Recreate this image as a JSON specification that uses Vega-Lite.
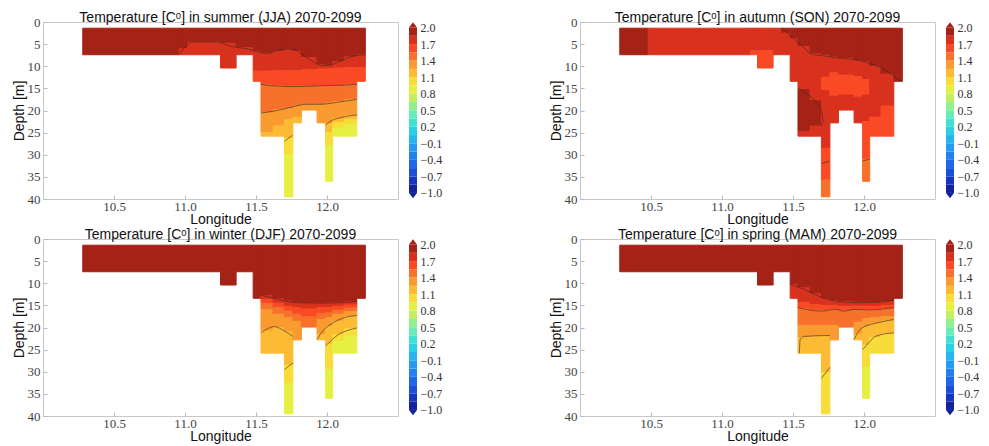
{
"$schema":"https://vega.github.io/schema/vega-lite/v6.json",
"background":"white",
"padding":{"left":11,"top":10,"right":0,"bottom":0},
"config":{
 "view":{"stroke":"#c8c8c8"},
 "axis":{"grid":false,"domain":false,"labelFont":"Liberation Serif, DejaVu Serif, serif","labelFontSize":13,"labelColor":"#444","titleFont":"Liberation Sans, Arial, sans-serif","titleFontSize":14,"titleFontWeight":"normal","titleColor":"#111","tickColor":"#bbbbbb","tickSize":-4,"labelOverlap":false,"labelBound":false},
 "axisX":{"labelPadding":5},
 "axisY":{"labelPadding":7},
 "title":{"font":"Liberation Sans, Arial, sans-serif","fontSize":14,"fontWeight":"normal","color":"#111","offset":-9,"frame":"group"}
},
"datasets":{
"bar":[
{"lo":-1.0,"hi":-0.85,"t":-0.925},{"lo":-0.85,"hi":-0.7,"t":-0.775},{"lo":-0.7,"hi":-0.55,"t":-0.625},{"lo":-0.55,"hi":-0.4,"t":-0.475},{"lo":-0.4,"hi":-0.25,"t":-0.325},{"lo":-0.25,"hi":-0.1,"t":-0.175},{"lo":-0.1,"hi":0.05,"t":-0.025},{"lo":0.05,"hi":0.2,"t":0.125},{"lo":0.2,"hi":0.35,"t":0.275},{"lo":0.35,"hi":0.5,"t":0.425},{"lo":0.5,"hi":0.65,"t":0.575},{"lo":0.65,"hi":0.8,"t":0.725},{"lo":0.8,"hi":0.95,"t":0.875},{"lo":0.95,"hi":1.1,"t":1.025},{"lo":1.1,"hi":1.25,"t":1.175},{"lo":1.25,"hi":1.4,"t":1.325},{"lo":1.4,"hi":1.55,"t":1.475},{"lo":1.55,"hi":1.7,"t":1.625},{"lo":1.7,"hi":1.85,"t":1.775},{"lo":1.85,"hi":2.0,"t":1.925}],
"tips":[{"v":2.0,"dir":"up","t":2.05},{"v":-1.0,"dir":"down","t":-1.05}],
"lines":[
{"p":"JJA","g":"a","o":1,"lon":10.96,"d":7.4},{"p":"JJA","g":"a","o":2,"lon":11.0,"d":5.6},{"p":"JJA","g":"a","o":3,"lon":11.06,"d":4.5},{"p":"JJA","g":"a","o":4,"lon":11.23,"d":4.5},{"p":"JJA","g":"a","o":5,"lon":11.3,"d":5.3},{"p":"JJA","g":"a","o":6,"lon":11.44,"d":6.1},{"p":"JJA","g":"a","o":7,"lon":11.52,"d":6.8},{"p":"JJA","g":"a","o":8,"lon":11.58,"d":7.1},{"p":"JJA","g":"a","o":9,"lon":11.65,"d":6.4},{"p":"JJA","g":"a","o":10,"lon":11.72,"d":6.1},{"p":"JJA","g":"a","o":11,"lon":11.77,"d":6.2},{"p":"JJA","g":"a","o":12,"lon":11.82,"d":7.2},{"p":"JJA","g":"a","o":13,"lon":11.89,"d":8.7},{"p":"JJA","g":"a","o":14,"lon":11.96,"d":9.8},{"p":"JJA","g":"a","o":15,"lon":12.01,"d":9.8},{"p":"JJA","g":"a","o":16,"lon":12.1,"d":8.7},{"p":"JJA","g":"a","o":17,"lon":12.2,"d":7.6},{"p":"JJA","g":"a","o":18,"lon":12.27,"d":7.4},
{"p":"JJA","g":"b","o":1,"lon":11.535,"d":14.1},{"p":"JJA","g":"b","o":2,"lon":11.65,"d":14.5},{"p":"JJA","g":"b","o":3,"lon":11.8,"d":14.6},{"p":"JJA","g":"b","o":4,"lon":11.95,"d":14.4},{"p":"JJA","g":"b","o":5,"lon":12.1,"d":14.3},{"p":"JJA","g":"b","o":6,"lon":12.21,"d":14.1},
{"p":"JJA","g":"c","o":1,"lon":11.535,"d":20.6},{"p":"JJA","g":"c","o":2,"lon":11.68,"d":19.8},{"p":"JJA","g":"c","o":3,"lon":11.78,"d":19.0},{"p":"JJA","g":"c","o":4,"lon":11.85,"d":18.6},{"p":"JJA","g":"c","o":5,"lon":11.95,"d":18.6},{"p":"JJA","g":"c","o":6,"lon":12.1,"d":18.0},{"p":"JJA","g":"c","o":7,"lon":12.21,"d":17.5},
{"p":"JJA","g":"d","o":1,"lon":11.70,"d":27.0},{"p":"JJA","g":"d","o":2,"lon":11.755,"d":25.6},
{"p":"JJA","g":"e","o":1,"lon":11.99,"d":23.3},{"p":"JJA","g":"e","o":2,"lon":12.02,"d":22.5},{"p":"JJA","g":"e","o":3,"lon":12.1,"d":21.6},{"p":"JJA","g":"e","o":4,"lon":12.21,"d":21.0},
{"p":"SON","g":"a","o":1,"lon":11.42,"d":1.4},{"p":"SON","g":"a","o":2,"lon":11.46,"d":2.5},{"p":"SON","g":"a","o":3,"lon":11.51,"d":3.9},{"p":"SON","g":"a","o":4,"lon":11.57,"d":5.6},{"p":"SON","g":"a","o":5,"lon":11.63,"d":7.2},{"p":"SON","g":"a","o":6,"lon":11.7,"d":7.6},{"p":"SON","g":"a","o":7,"lon":11.79,"d":8.0},{"p":"SON","g":"a","o":8,"lon":11.9,"d":8.4},{"p":"SON","g":"a","o":9,"lon":11.98,"d":8.8},{"p":"SON","g":"a","o":10,"lon":12.05,"d":9.5},{"p":"SON","g":"a","o":11,"lon":12.12,"d":10.3},{"p":"SON","g":"a","o":12,"lon":12.18,"d":11.5},{"p":"SON","g":"a","o":13,"lon":12.22,"d":12.6},{"p":"SON","g":"a","o":14,"lon":12.27,"d":13.4},
{"p":"SON","g":"b","o":1,"lon":11.535,"d":15.0},{"p":"SON","g":"b","o":2,"lon":11.6,"d":16.3},{"p":"SON","g":"b","o":3,"lon":11.66,"d":18.0},{"p":"SON","g":"b","o":4,"lon":11.70,"d":20.0},{"p":"SON","g":"b","o":5,"lon":11.715,"d":22.5},{"p":"SON","g":"b","o":6,"lon":11.70,"d":23.5},
{"p":"SON","g":"c","o":1,"lon":11.70,"d":32.0},{"p":"SON","g":"c","o":2,"lon":11.76,"d":31.4},
{"p":"SON","g":"d","o":1,"lon":11.99,"d":31.4},{"p":"SON","g":"d","o":2,"lon":12.04,"d":31.0},
{"p":"DJF","g":"a","o":1,"lon":11.535,"d":12.7},{"p":"DJF","g":"a","o":2,"lon":11.62,"d":13.3},{"p":"DJF","g":"a","o":3,"lon":11.70,"d":14.0},{"p":"DJF","g":"a","o":4,"lon":11.8,"d":14.4},{"p":"DJF","g":"a","o":5,"lon":11.95,"d":14.5},{"p":"DJF","g":"a","o":6,"lon":12.1,"d":14.4},{"p":"DJF","g":"a","o":7,"lon":12.21,"d":14.1},
{"p":"DJF","g":"c","o":1,"lon":11.535,"d":21.2},{"p":"DJF","g":"c","o":2,"lon":11.63,"d":19.8},{"p":"DJF","g":"c","o":3,"lon":11.70,"d":20.8},{"p":"DJF","g":"c","o":4,"lon":11.76,"d":22.0},
{"p":"DJF","g":"d","o":1,"lon":11.93,"d":22.7},{"p":"DJF","g":"d","o":2,"lon":11.97,"d":20.8},{"p":"DJF","g":"d","o":3,"lon":12.03,"d":19.2},{"p":"DJF","g":"d","o":4,"lon":12.12,"d":17.8},{"p":"DJF","g":"d","o":5,"lon":12.21,"d":17.3},
{"p":"DJF","g":"e","o":1,"lon":11.99,"d":24.2},{"p":"DJF","g":"e","o":2,"lon":12.04,"d":22.6},{"p":"DJF","g":"e","o":3,"lon":12.08,"d":21.6},{"p":"DJF","g":"e","o":4,"lon":12.15,"d":20.6},{"p":"DJF","g":"e","o":5,"lon":12.21,"d":20.1},
{"p":"DJF","g":"f","o":1,"lon":11.70,"d":29.5},{"p":"DJF","g":"f","o":2,"lon":11.76,"d":28.0},
{"p":"MAM","g":"a","o":1,"lon":11.48,"d":10.2},{"p":"MAM","g":"a","o":2,"lon":11.58,"d":11.4},{"p":"MAM","g":"a","o":3,"lon":11.66,"d":12.6},{"p":"MAM","g":"a","o":4,"lon":11.72,"d":13.4},{"p":"MAM","g":"a","o":5,"lon":11.8,"d":14.0},{"p":"MAM","g":"a","o":6,"lon":11.95,"d":14.4},{"p":"MAM","g":"a","o":7,"lon":12.1,"d":14.3},{"p":"MAM","g":"a","o":8,"lon":12.21,"d":13.8},
{"p":"MAM","g":"b","o":1,"lon":11.535,"d":15.5},{"p":"MAM","g":"b","o":2,"lon":11.7,"d":16.3},{"p":"MAM","g":"b","o":3,"lon":11.8,"d":15.9},{"p":"MAM","g":"b","o":4,"lon":11.86,"d":16.3},{"p":"MAM","g":"b","o":5,"lon":11.93,"d":15.9},{"p":"MAM","g":"b","o":6,"lon":12.04,"d":16.0},{"p":"MAM","g":"b","o":7,"lon":12.21,"d":15.5},
{"p":"MAM","g":"c","o":1,"lon":11.545,"d":25.8},{"p":"MAM","g":"c","o":2,"lon":11.55,"d":22.8},{"p":"MAM","g":"c","o":3,"lon":11.58,"d":22.0},{"p":"MAM","g":"c","o":4,"lon":11.76,"d":21.8},
{"p":"MAM","g":"d","o":1,"lon":11.93,"d":22.7},{"p":"MAM","g":"d","o":2,"lon":11.98,"d":20.2},{"p":"MAM","g":"d","o":3,"lon":12.1,"d":18.9},{"p":"MAM","g":"d","o":4,"lon":12.21,"d":18.2},
{"p":"MAM","g":"e","o":1,"lon":11.99,"d":25.0},{"p":"MAM","g":"e","o":2,"lon":12.04,"d":23.2},{"p":"MAM","g":"e","o":3,"lon":12.08,"d":22.0},{"p":"MAM","g":"e","o":4,"lon":12.21,"d":21.2},
{"p":"MAM","g":"f","o":1,"lon":11.70,"d":31.5},{"p":"MAM","g":"f","o":2,"lon":11.76,"d":29.0}
],
"cells":[
{"p":"JJA","x0":10.28,"x1":10.96,"d0":1.4,"d1":7.4,"t":1.92},
{"p":"JJA","x0":10.96,"x1":11.02,"d0":1.4,"d1":6.0,"t":1.92},
{"p":"JJA","x0":10.96,"x1":11.02,"d0":6.0,"d1":7.4,"t":1.78},
{"p":"JJA","x0":11.02,"x1":11.25,"d0":1.4,"d1":4.5,"t":1.92},
{"p":"JJA","x0":11.02,"x1":11.25,"d0":4.5,"d1":7.4,"t":1.78},
{"p":"JJA","x0":11.25,"x1":11.36,"d0":1.4,"d1":4.8,"t":1.92},
{"p":"JJA","x0":11.25,"x1":11.36,"d0":4.8,"d1":10.4,"t":1.78},
{"p":"JJA","x0":11.36,"x1":11.48,"d0":1.4,"d1":5.8,"t":1.92},
{"p":"JJA","x0":11.36,"x1":11.48,"d0":5.8,"d1":7.4,"t":1.78},
{"p":"JJA","x0":11.48,"x1":11.535,"d0":1.4,"d1":6.6,"t":1.92},
{"p":"JJA","x0":11.48,"x1":11.535,"d0":6.6,"d1":11.1,"t":1.78},
{"p":"JJA","x0":11.48,"x1":11.535,"d0":11.1,"d1":13.4,"t":1.62},
{"p":"JJA","x0":11.535,"x1":11.62,"d0":1.4,"d1":7.0,"t":1.92},
{"p":"JJA","x0":11.535,"x1":11.62,"d0":7.0,"d1":11.1,"t":1.78},
{"p":"JJA","x0":11.535,"x1":11.62,"d0":11.1,"d1":14.2,"t":1.62},
{"p":"JJA","x0":11.535,"x1":11.62,"d0":14.2,"d1":20.5,"t":1.47},
{"p":"JJA","x0":11.535,"x1":11.62,"d0":20.5,"d1":25.0,"t":1.32},
{"p":"JJA","x0":11.535,"x1":11.62,"d0":25.0,"d1":25.8,"t":1.17},
{"p":"JJA","x0":11.62,"x1":11.70,"d0":1.4,"d1":6.6,"t":1.92},
{"p":"JJA","x0":11.62,"x1":11.70,"d0":6.6,"d1":11.0,"t":1.78},
{"p":"JJA","x0":11.62,"x1":11.70,"d0":11.0,"d1":14.4,"t":1.62},
{"p":"JJA","x0":11.62,"x1":11.70,"d0":14.4,"d1":19.8,"t":1.47},
{"p":"JJA","x0":11.62,"x1":11.70,"d0":19.8,"d1":23.5,"t":1.32},
{"p":"JJA","x0":11.62,"x1":11.70,"d0":23.5,"d1":25.8,"t":1.17},
{"p":"JJA","x0":11.70,"x1":11.76,"d0":1.4,"d1":6.1,"t":1.92},
{"p":"JJA","x0":11.70,"x1":11.76,"d0":6.1,"d1":11.0,"t":1.78},
{"p":"JJA","x0":11.70,"x1":11.76,"d0":11.0,"d1":14.5,"t":1.62},
{"p":"JJA","x0":11.70,"x1":11.76,"d0":14.5,"d1":19.5,"t":1.47},
{"p":"JJA","x0":11.70,"x1":11.76,"d0":19.5,"d1":22.0,"t":1.32},
{"p":"JJA","x0":11.70,"x1":11.76,"d0":22.0,"d1":26.3,"t":1.17},
{"p":"JJA","x0":11.70,"x1":11.76,"d0":26.3,"d1":30.0,"t":1.02},
{"p":"JJA","x0":11.70,"x1":11.76,"d0":30.0,"d1":39.5,"t":0.87},
{"p":"JJA","x0":11.76,"x1":11.82,"d0":1.4,"d1":6.6,"t":1.92},
{"p":"JJA","x0":11.76,"x1":11.82,"d0":6.6,"d1":11.0,"t":1.78},
{"p":"JJA","x0":11.76,"x1":11.82,"d0":11.0,"d1":14.5,"t":1.62},
{"p":"JJA","x0":11.76,"x1":11.82,"d0":14.5,"d1":19.0,"t":1.47},
{"p":"JJA","x0":11.76,"x1":11.82,"d0":19.0,"d1":21.5,"t":1.32},
{"p":"JJA","x0":11.76,"x1":11.82,"d0":21.5,"d1":22.8,"t":1.17},
{"p":"JJA","x0":11.82,"x1":11.93,"d0":1.4,"d1":8.0,"t":1.92},
{"p":"JJA","x0":11.82,"x1":11.93,"d0":8.0,"d1":10.8,"t":1.78},
{"p":"JJA","x0":11.82,"x1":11.93,"d0":10.8,"d1":14.5,"t":1.62},
{"p":"JJA","x0":11.82,"x1":11.93,"d0":14.5,"d1":18.6,"t":1.47},
{"p":"JJA","x0":11.82,"x1":11.93,"d0":18.6,"d1":19.9,"t":1.32},
{"p":"JJA","x0":11.93,"x1":11.99,"d0":1.4,"d1":9.6,"t":1.92},
{"p":"JJA","x0":11.93,"x1":11.99,"d0":9.6,"d1":10.6,"t":1.78},
{"p":"JJA","x0":11.93,"x1":11.99,"d0":10.6,"d1":14.4,"t":1.62},
{"p":"JJA","x0":11.93,"x1":11.99,"d0":14.4,"d1":18.6,"t":1.47},
{"p":"JJA","x0":11.93,"x1":11.99,"d0":18.6,"d1":22.8,"t":1.32},
{"p":"JJA","x0":11.99,"x1":12.04,"d0":1.4,"d1":9.8,"t":1.92},
{"p":"JJA","x0":11.99,"x1":12.04,"d0":9.8,"d1":10.5,"t":1.78},
{"p":"JJA","x0":11.99,"x1":12.04,"d0":10.5,"d1":14.4,"t":1.62},
{"p":"JJA","x0":11.99,"x1":12.04,"d0":14.4,"d1":18.3,"t":1.47},
{"p":"JJA","x0":11.99,"x1":12.04,"d0":18.3,"d1":23.0,"t":1.32},
{"p":"JJA","x0":11.99,"x1":12.04,"d0":23.0,"d1":25.0,"t":1.17},
{"p":"JJA","x0":11.99,"x1":12.04,"d0":25.0,"d1":28.0,"t":1.02},
{"p":"JJA","x0":11.99,"x1":12.04,"d0":28.0,"d1":36.0,"t":0.87},
{"p":"JJA","x0":12.04,"x1":12.12,"d0":1.4,"d1":9.0,"t":1.92},
{"p":"JJA","x0":12.04,"x1":12.12,"d0":9.0,"d1":10.4,"t":1.78},
{"p":"JJA","x0":12.04,"x1":12.12,"d0":10.4,"d1":14.4,"t":1.62},
{"p":"JJA","x0":12.04,"x1":12.12,"d0":14.4,"d1":18.0,"t":1.47},
{"p":"JJA","x0":12.04,"x1":12.12,"d0":18.0,"d1":21.8,"t":1.32},
{"p":"JJA","x0":12.04,"x1":12.12,"d0":21.8,"d1":22.7,"t":1.17},
{"p":"JJA","x0":12.04,"x1":12.12,"d0":22.7,"d1":24.0,"t":1.02},
{"p":"JJA","x0":12.04,"x1":12.12,"d0":24.0,"d1":25.8,"t":0.87},
{"p":"JJA","x0":12.12,"x1":12.21,"d0":1.4,"d1":7.9,"t":1.92},
{"p":"JJA","x0":12.12,"x1":12.21,"d0":7.9,"d1":10.3,"t":1.78},
{"p":"JJA","x0":12.12,"x1":12.21,"d0":10.3,"d1":14.1,"t":1.62},
{"p":"JJA","x0":12.12,"x1":12.21,"d0":14.1,"d1":17.5,"t":1.47},
{"p":"JJA","x0":12.12,"x1":12.21,"d0":17.5,"d1":21.2,"t":1.32},
{"p":"JJA","x0":12.12,"x1":12.21,"d0":21.2,"d1":22.0,"t":1.17},
{"p":"JJA","x0":12.12,"x1":12.21,"d0":22.0,"d1":23.3,"t":1.02},
{"p":"JJA","x0":12.12,"x1":12.21,"d0":23.3,"d1":25.8,"t":0.87},
{"p":"JJA","x0":12.21,"x1":12.27,"d0":1.4,"d1":7.4,"t":1.92},
{"p":"JJA","x0":12.21,"x1":12.27,"d0":7.4,"d1":10.3,"t":1.78},
{"p":"JJA","x0":12.21,"x1":12.27,"d0":10.3,"d1":13.4,"t":1.62},

{"p":"SON","x0":10.28,"x1":10.48,"d0":1.4,"d1":7.4,"t":1.92},
{"p":"SON","x0":10.48,"x1":11.20,"d0":1.4,"d1":7.4,"t":1.78},
{"p":"SON","x0":11.20,"x1":11.25,"d0":1.4,"d1":6.5,"t":1.78},
{"p":"SON","x0":11.20,"x1":11.25,"d0":6.5,"d1":7.4,"t":1.62},
{"p":"SON","x0":11.25,"x1":11.36,"d0":1.4,"d1":6.5,"t":1.78},
{"p":"SON","x0":11.25,"x1":11.36,"d0":6.5,"d1":10.4,"t":1.62},
{"p":"SON","x0":11.36,"x1":11.42,"d0":1.4,"d1":7.4,"t":1.78},
{"p":"SON","x0":11.42,"x1":11.48,"d0":1.4,"d1":2.5,"t":1.92},
{"p":"SON","x0":11.42,"x1":11.48,"d0":2.5,"d1":7.4,"t":1.78},
{"p":"SON","x0":11.48,"x1":11.535,"d0":1.4,"d1":3.8,"t":1.92},
{"p":"SON","x0":11.48,"x1":11.535,"d0":3.8,"d1":13.4,"t":1.78},
{"p":"SON","x0":11.535,"x1":11.62,"d0":1.4,"d1":5.5,"t":1.92},
{"p":"SON","x0":11.535,"x1":11.62,"d0":5.5,"d1":15.3,"t":1.78},
{"p":"SON","x0":11.535,"x1":11.62,"d0":15.3,"d1":24.8,"t":1.92},
{"p":"SON","x0":11.535,"x1":11.62,"d0":24.8,"d1":25.8,"t":1.78},
{"p":"SON","x0":11.62,"x1":11.70,"d0":1.4,"d1":7.2,"t":1.92},
{"p":"SON","x0":11.62,"x1":11.70,"d0":7.2,"d1":17.8,"t":1.78},
{"p":"SON","x0":11.62,"x1":11.70,"d0":17.8,"d1":23.5,"t":1.92},
{"p":"SON","x0":11.62,"x1":11.70,"d0":23.5,"d1":25.8,"t":1.78},
{"p":"SON","x0":11.70,"x1":11.76,"d0":1.4,"d1":7.5,"t":1.92},
{"p":"SON","x0":11.70,"x1":11.76,"d0":7.5,"d1":12.5,"t":1.78},
{"p":"SON","x0":11.70,"x1":11.76,"d0":12.5,"d1":15.5,"t":1.62},
{"p":"SON","x0":11.70,"x1":11.76,"d0":15.5,"d1":28.5,"t":1.78},
{"p":"SON","x0":11.70,"x1":11.76,"d0":28.5,"d1":35.7,"t":1.62},
{"p":"SON","x0":11.70,"x1":11.76,"d0":35.7,"d1":39.5,"t":1.47},
{"p":"SON","x0":11.76,"x1":11.82,"d0":1.4,"d1":7.9,"t":1.92},
{"p":"SON","x0":11.76,"x1":11.82,"d0":7.9,"d1":11.5,"t":1.78},
{"p":"SON","x0":11.76,"x1":11.82,"d0":11.5,"d1":16.8,"t":1.62},
{"p":"SON","x0":11.76,"x1":11.82,"d0":16.8,"d1":22.8,"t":1.78},
{"p":"SON","x0":11.82,"x1":11.93,"d0":1.4,"d1":8.2,"t":1.92},
{"p":"SON","x0":11.82,"x1":11.93,"d0":8.2,"d1":12.0,"t":1.78},
{"p":"SON","x0":11.82,"x1":11.93,"d0":12.0,"d1":16.5,"t":1.62},
{"p":"SON","x0":11.82,"x1":11.93,"d0":16.5,"d1":19.9,"t":1.78},
{"p":"SON","x0":11.93,"x1":11.99,"d0":1.4,"d1":8.7,"t":1.92},
{"p":"SON","x0":11.93,"x1":11.99,"d0":8.7,"d1":12.3,"t":1.78},
{"p":"SON","x0":11.93,"x1":11.99,"d0":12.3,"d1":17.0,"t":1.62},
{"p":"SON","x0":11.93,"x1":11.99,"d0":17.0,"d1":22.8,"t":1.78},
{"p":"SON","x0":11.99,"x1":12.04,"d0":1.4,"d1":9.0,"t":1.92},
{"p":"SON","x0":11.99,"x1":12.04,"d0":9.0,"d1":13.0,"t":1.78},
{"p":"SON","x0":11.99,"x1":12.04,"d0":13.0,"d1":16.5,"t":1.62},
{"p":"SON","x0":11.99,"x1":12.04,"d0":16.5,"d1":22.5,"t":1.78},
{"p":"SON","x0":11.99,"x1":12.04,"d0":22.5,"d1":31.0,"t":1.62},
{"p":"SON","x0":11.99,"x1":12.04,"d0":31.0,"d1":36.0,"t":1.47},
{"p":"SON","x0":12.04,"x1":12.12,"d0":1.4,"d1":10.0,"t":1.92},
{"p":"SON","x0":12.04,"x1":12.12,"d0":10.0,"d1":21.5,"t":1.78},
{"p":"SON","x0":12.04,"x1":12.12,"d0":21.5,"d1":25.8,"t":1.62},
{"p":"SON","x0":12.12,"x1":12.21,"d0":1.4,"d1":11.8,"t":1.92},
{"p":"SON","x0":12.12,"x1":12.21,"d0":11.8,"d1":19.0,"t":1.78},
{"p":"SON","x0":12.12,"x1":12.21,"d0":19.0,"d1":25.8,"t":1.62},
{"p":"SON","x0":12.21,"x1":12.27,"d0":1.4,"d1":13.4,"t":1.92},

{"p":"DJF","x0":10.28,"x1":11.48,"d0":1.4,"d1":7.4,"t":1.92},
{"p":"DJF","x0":11.25,"x1":11.36,"d0":7.4,"d1":10.4,"t":1.92},
{"p":"DJF","x0":11.48,"x1":11.535,"d0":1.4,"d1":13.4,"t":1.92},
{"p":"DJF","x0":11.535,"x1":11.62,"d0":1.4,"d1":12.8,"t":1.92},
{"p":"DJF","x0":11.535,"x1":11.62,"d0":12.8,"d1":13.7,"t":1.78},
{"p":"DJF","x0":11.535,"x1":11.62,"d0":13.7,"d1":14.6,"t":1.62},
{"p":"DJF","x0":11.535,"x1":11.62,"d0":14.6,"d1":16.0,"t":1.47},
{"p":"DJF","x0":11.535,"x1":11.62,"d0":16.0,"d1":20.8,"t":1.32},
{"p":"DJF","x0":11.535,"x1":11.62,"d0":20.8,"d1":25.8,"t":1.17},
{"p":"DJF","x0":11.62,"x1":11.70,"d0":1.4,"d1":13.5,"t":1.92},
{"p":"DJF","x0":11.62,"x1":11.70,"d0":13.5,"d1":14.5,"t":1.78},
{"p":"DJF","x0":11.62,"x1":11.70,"d0":14.5,"d1":15.5,"t":1.62},
{"p":"DJF","x0":11.62,"x1":11.70,"d0":15.5,"d1":17.0,"t":1.47},
{"p":"DJF","x0":11.62,"x1":11.70,"d0":17.0,"d1":20.0,"t":1.32},
{"p":"DJF","x0":11.62,"x1":11.70,"d0":20.0,"d1":25.8,"t":1.17},
{"p":"DJF","x0":11.70,"x1":11.76,"d0":1.4,"d1":14.0,"t":1.92},
{"p":"DJF","x0":11.70,"x1":11.76,"d0":14.0,"d1":15.2,"t":1.78},
{"p":"DJF","x0":11.70,"x1":11.76,"d0":15.2,"d1":16.3,"t":1.62},
{"p":"DJF","x0":11.70,"x1":11.76,"d0":16.3,"d1":17.8,"t":1.47},
{"p":"DJF","x0":11.70,"x1":11.76,"d0":17.8,"d1":21.0,"t":1.32},
{"p":"DJF","x0":11.70,"x1":11.76,"d0":21.0,"d1":28.5,"t":1.17},
{"p":"DJF","x0":11.70,"x1":11.76,"d0":28.5,"d1":32.6,"t":1.02},
{"p":"DJF","x0":11.70,"x1":11.76,"d0":32.6,"d1":39.5,"t":0.87},
{"p":"DJF","x0":11.76,"x1":11.82,"d0":1.4,"d1":14.4,"t":1.92},
{"p":"DJF","x0":11.76,"x1":11.82,"d0":14.4,"d1":15.5,"t":1.78},
{"p":"DJF","x0":11.76,"x1":11.82,"d0":15.5,"d1":17.0,"t":1.62},
{"p":"DJF","x0":11.76,"x1":11.82,"d0":17.0,"d1":18.6,"t":1.47},
{"p":"DJF","x0":11.76,"x1":11.82,"d0":18.6,"d1":22.8,"t":1.32},
{"p":"DJF","x0":11.82,"x1":11.93,"d0":1.4,"d1":14.5,"t":1.92},
{"p":"DJF","x0":11.82,"x1":11.93,"d0":14.5,"d1":15.8,"t":1.78},
{"p":"DJF","x0":11.82,"x1":11.93,"d0":15.8,"d1":17.6,"t":1.62},
{"p":"DJF","x0":11.82,"x1":11.93,"d0":17.6,"d1":19.9,"t":1.47},
{"p":"DJF","x0":11.93,"x1":11.99,"d0":1.4,"d1":14.5,"t":1.92},
{"p":"DJF","x0":11.93,"x1":11.99,"d0":14.5,"d1":15.5,"t":1.78},
{"p":"DJF","x0":11.93,"x1":11.99,"d0":15.5,"d1":16.8,"t":1.62},
{"p":"DJF","x0":11.93,"x1":11.99,"d0":16.8,"d1":18.2,"t":1.47},
{"p":"DJF","x0":11.93,"x1":11.99,"d0":18.2,"d1":21.6,"t":1.32},
{"p":"DJF","x0":11.93,"x1":11.99,"d0":21.6,"d1":22.8,"t":1.17},
{"p":"DJF","x0":11.99,"x1":12.04,"d0":1.4,"d1":14.4,"t":1.92},
{"p":"DJF","x0":11.99,"x1":12.04,"d0":14.4,"d1":15.5,"t":1.78},
{"p":"DJF","x0":11.99,"x1":12.04,"d0":15.5,"d1":16.7,"t":1.62},
{"p":"DJF","x0":11.99,"x1":12.04,"d0":16.7,"d1":17.8,"t":1.47},
{"p":"DJF","x0":11.99,"x1":12.04,"d0":17.8,"d1":19.8,"t":1.32},
{"p":"DJF","x0":11.99,"x1":12.04,"d0":19.8,"d1":23.9,"t":1.17},
{"p":"DJF","x0":11.99,"x1":12.04,"d0":23.9,"d1":29.5,"t":1.02},
{"p":"DJF","x0":11.99,"x1":12.04,"d0":29.5,"d1":36.0,"t":0.87},
{"p":"DJF","x0":12.04,"x1":12.12,"d0":1.4,"d1":14.4,"t":1.92},
{"p":"DJF","x0":12.04,"x1":12.12,"d0":14.4,"d1":15.2,"t":1.78},
{"p":"DJF","x0":12.04,"x1":12.12,"d0":15.2,"d1":16.1,"t":1.62},
{"p":"DJF","x0":12.04,"x1":12.12,"d0":16.1,"d1":17.0,"t":1.47},
{"p":"DJF","x0":12.04,"x1":12.12,"d0":17.0,"d1":18.6,"t":1.32},
{"p":"DJF","x0":12.04,"x1":12.12,"d0":18.6,"d1":21.6,"t":1.17},
{"p":"DJF","x0":12.04,"x1":12.12,"d0":21.6,"d1":23.1,"t":1.02},
{"p":"DJF","x0":12.04,"x1":12.12,"d0":23.1,"d1":25.8,"t":0.87},
{"p":"DJF","x0":12.12,"x1":12.21,"d0":1.4,"d1":14.2,"t":1.92},
{"p":"DJF","x0":12.12,"x1":12.21,"d0":14.2,"d1":14.9,"t":1.78},
{"p":"DJF","x0":12.12,"x1":12.21,"d0":14.9,"d1":15.6,"t":1.62},
{"p":"DJF","x0":12.12,"x1":12.21,"d0":15.6,"d1":16.4,"t":1.47},
{"p":"DJF","x0":12.12,"x1":12.21,"d0":16.4,"d1":17.5,"t":1.32},
{"p":"DJF","x0":12.12,"x1":12.21,"d0":17.5,"d1":20.3,"t":1.17},
{"p":"DJF","x0":12.12,"x1":12.21,"d0":20.3,"d1":22.0,"t":1.02},
{"p":"DJF","x0":12.12,"x1":12.21,"d0":22.0,"d1":25.8,"t":0.87},
{"p":"DJF","x0":12.21,"x1":12.27,"d0":1.4,"d1":13.4,"t":1.92},

{"p":"MAM","x0":10.28,"x1":11.48,"d0":1.4,"d1":7.4,"t":1.92},
{"p":"MAM","x0":11.25,"x1":11.36,"d0":7.4,"d1":10.4,"t":1.92},
{"p":"MAM","x0":11.48,"x1":11.535,"d0":1.4,"d1":10.3,"t":1.92},
{"p":"MAM","x0":11.48,"x1":11.535,"d0":10.3,"d1":13.4,"t":1.78},
{"p":"MAM","x0":11.535,"x1":11.62,"d0":1.4,"d1":11.0,"t":1.92},
{"p":"MAM","x0":11.535,"x1":11.62,"d0":11.0,"d1":14.3,"t":1.78},
{"p":"MAM","x0":11.535,"x1":11.62,"d0":14.3,"d1":15.7,"t":1.62},
{"p":"MAM","x0":11.535,"x1":11.62,"d0":15.7,"d1":19.5,"t":1.47},
{"p":"MAM","x0":11.535,"x1":11.62,"d0":19.5,"d1":22.3,"t":1.32},
{"p":"MAM","x0":11.535,"x1":11.62,"d0":22.3,"d1":25.8,"t":1.17},
{"p":"MAM","x0":11.62,"x1":11.70,"d0":1.4,"d1":12.3,"t":1.92},
{"p":"MAM","x0":11.62,"x1":11.70,"d0":12.3,"d1":14.8,"t":1.78},
{"p":"MAM","x0":11.62,"x1":11.70,"d0":14.8,"d1":16.1,"t":1.62},
{"p":"MAM","x0":11.62,"x1":11.70,"d0":16.1,"d1":19.5,"t":1.47},
{"p":"MAM","x0":11.62,"x1":11.70,"d0":19.5,"d1":22.0,"t":1.32},
{"p":"MAM","x0":11.62,"x1":11.70,"d0":22.0,"d1":25.8,"t":1.17},
{"p":"MAM","x0":11.70,"x1":11.76,"d0":1.4,"d1":13.5,"t":1.92},
{"p":"MAM","x0":11.70,"x1":11.76,"d0":13.5,"d1":15.0,"t":1.78},
{"p":"MAM","x0":11.70,"x1":11.76,"d0":15.0,"d1":16.2,"t":1.62},
{"p":"MAM","x0":11.70,"x1":11.76,"d0":16.2,"d1":19.5,"t":1.47},
{"p":"MAM","x0":11.70,"x1":11.76,"d0":19.5,"d1":21.9,"t":1.32},
{"p":"MAM","x0":11.70,"x1":11.76,"d0":21.9,"d1":30.2,"t":1.17},
{"p":"MAM","x0":11.70,"x1":11.76,"d0":30.2,"d1":39.5,"t":1.02},
{"p":"MAM","x0":11.76,"x1":11.82,"d0":1.4,"d1":13.9,"t":1.92},
{"p":"MAM","x0":11.76,"x1":11.82,"d0":13.9,"d1":15.0,"t":1.78},
{"p":"MAM","x0":11.76,"x1":11.82,"d0":15.0,"d1":16.0,"t":1.62},
{"p":"MAM","x0":11.76,"x1":11.82,"d0":16.0,"d1":19.5,"t":1.47},
{"p":"MAM","x0":11.76,"x1":11.82,"d0":19.5,"d1":22.8,"t":1.32},
{"p":"MAM","x0":11.82,"x1":11.93,"d0":1.4,"d1":14.1,"t":1.92},
{"p":"MAM","x0":11.82,"x1":11.93,"d0":14.1,"d1":15.2,"t":1.78},
{"p":"MAM","x0":11.82,"x1":11.93,"d0":15.2,"d1":16.2,"t":1.62},
{"p":"MAM","x0":11.82,"x1":11.93,"d0":16.2,"d1":19.9,"t":1.47},
{"p":"MAM","x0":11.93,"x1":11.99,"d0":1.4,"d1":14.3,"t":1.92},
{"p":"MAM","x0":11.93,"x1":11.99,"d0":14.3,"d1":15.2,"t":1.78},
{"p":"MAM","x0":11.93,"x1":11.99,"d0":15.2,"d1":16.0,"t":1.62},
{"p":"MAM","x0":11.93,"x1":11.99,"d0":16.0,"d1":18.8,"t":1.47},
{"p":"MAM","x0":11.93,"x1":11.99,"d0":18.8,"d1":21.5,"t":1.32},
{"p":"MAM","x0":11.93,"x1":11.99,"d0":21.5,"d1":22.8,"t":1.17},
{"p":"MAM","x0":11.99,"x1":12.04,"d0":1.4,"d1":14.4,"t":1.92},
{"p":"MAM","x0":11.99,"x1":12.04,"d0":14.4,"d1":15.2,"t":1.78},
{"p":"MAM","x0":11.99,"x1":12.04,"d0":15.2,"d1":16.0,"t":1.62},
{"p":"MAM","x0":11.99,"x1":12.04,"d0":16.0,"d1":18.0,"t":1.47},
{"p":"MAM","x0":11.99,"x1":12.04,"d0":18.0,"d1":19.9,"t":1.32},
{"p":"MAM","x0":11.99,"x1":12.04,"d0":19.9,"d1":24.0,"t":1.17},
{"p":"MAM","x0":11.99,"x1":12.04,"d0":24.0,"d1":29.0,"t":1.02},
{"p":"MAM","x0":11.99,"x1":12.04,"d0":29.0,"d1":36.0,"t":0.87},
{"p":"MAM","x0":12.04,"x1":12.12,"d0":1.4,"d1":14.4,"t":1.92},
{"p":"MAM","x0":12.04,"x1":12.12,"d0":14.4,"d1":15.2,"t":1.78},
{"p":"MAM","x0":12.04,"x1":12.12,"d0":15.2,"d1":16.0,"t":1.62},
{"p":"MAM","x0":12.04,"x1":12.12,"d0":16.0,"d1":17.8,"t":1.47},
{"p":"MAM","x0":12.04,"x1":12.12,"d0":17.8,"d1":19.1,"t":1.32},
{"p":"MAM","x0":12.04,"x1":12.12,"d0":19.1,"d1":22.3,"t":1.17},
{"p":"MAM","x0":12.04,"x1":12.12,"d0":22.3,"d1":25.8,"t":1.02},
{"p":"MAM","x0":12.12,"x1":12.21,"d0":1.4,"d1":14.1,"t":1.92},
{"p":"MAM","x0":12.12,"x1":12.21,"d0":14.1,"d1":15.0,"t":1.78},
{"p":"MAM","x0":12.12,"x1":12.21,"d0":15.0,"d1":15.8,"t":1.62},
{"p":"MAM","x0":12.12,"x1":12.21,"d0":15.8,"d1":17.5,"t":1.47},
{"p":"MAM","x0":12.12,"x1":12.21,"d0":17.5,"d1":18.5,"t":1.32},
{"p":"MAM","x0":12.12,"x1":12.21,"d0":18.5,"d1":21.5,"t":1.17},
{"p":"MAM","x0":12.12,"x1":12.21,"d0":21.5,"d1":25.8,"t":1.02},
{"p":"MAM","x0":12.21,"x1":12.27,"d0":1.4,"d1":13.4,"t":1.92}
]},
"resolve":{"scale":{"x":"independent","y":"independent"}},
"spacing":0,
"vconcat":[
{"spacing":106,"resolve":{"scale":{"x":"independent","y":"independent"}},"hconcat":[
 {"spacing":10,"resolve":{"scale":{"x":"independent","y":"independent"}},"hconcat":[
  {"width":355,"height":177,"title":"Temperature [Cᵒ] in summer (JJA) 2070-2099",
   "layer":[
    {"data":{"name":"cells"},"transform":[{"filter":"datum.p === 'JJA'"}],
     "mark":{"type":"rect","strokeWidth":1},
     "encoding":{
      "x":{"field":"x0","type":"quantitative","scale":{"domain":[10,12.5],"nice":false,"zero":false},"axis":{"values":[10.5,11,11.5,12],"format":".1f","title":"Longitude","titlePadding":-1,"labelOverlap":false}},
      "x2":{"field":"x1"},
      "y":{"field":"d0","type":"quantitative","scale":{"domain":[0,40],"reverse":true,"nice":false,"zero":false},"axis":{"values":[0,5,10,15,20,25,30,35,40],"title":"Depth [m]","titlePadding":1,"labelOverlap":false}},
      "y2":{"field":"d1"},
      "color":{"field":"t","type":"quantitative","legend":null,"scale":{"type":"threshold","domain":[-0.85,-0.7,-0.55,-0.4,-0.25,-0.1,0.05,0.2,0.35,0.5,0.65,0.8,0.95,1.1,1.25,1.4,1.55,1.7,1.85],"range":["#14239a","#1636c0","#1a4fdc","#1f68e8","#2182ee","#239cf0","#26b6ee","#2ccfe6","#3fe2d2","#66ecb4","#94ef8e","#c2ee64","#e6f043","#f7dc3a","#fbbb35","#f99b30","#f6712b","#fa4a25","#d8321f","#a52216"]}},
      "stroke":{"field":"t","type":"quantitative","legend":null,"scale":{"type":"threshold","domain":[-0.85,-0.7,-0.55,-0.4,-0.25,-0.1,0.05,0.2,0.35,0.5,0.65,0.8,0.95,1.1,1.25,1.4,1.55,1.7,1.85],"range":["#14239a","#1636c0","#1a4fdc","#1f68e8","#2182ee","#239cf0","#26b6ee","#2ccfe6","#3fe2d2","#66ecb4","#94ef8e","#c2ee64","#e6f043","#f7dc3a","#fbbb35","#f99b30","#f6712b","#fa4a25","#d8321f","#a52216"]}}}},
    {"data":{"name":"lines"},"transform":[{"filter":"datum.p === 'JJA'"}],
     "mark":{"type":"line","color":"#3a2a20","strokeWidth":0.8,"opacity":0.75,"interpolate":"monotone"},
     "encoding":{"x":{"field":"lon","type":"quantitative","axis":{"values":[10.5,11,11.5,12],"format":".1f","title":"Longitude","titlePadding":-1,"labelOverlap":false}},"y":{"field":"d","type":"quantitative","axis":{"values":[0,5,10,15,20,25,30,35,40],"title":"Depth [m]","titlePadding":1,"labelOverlap":false}},"detail":{"field":"g"},"order":{"field":"o","type":"quantitative"}}}
   ]},
  {"width":8,"height":177,"view":{"stroke":null},
   "layer":[
    {"data":{"name":"bar"},"mark":{"type":"rect"},
     "encoding":{
      "y":{"field":"lo","type":"quantitative","scale":{"domain":[-1.11,2.1],"nice":false,"zero":false},"axis":{"orient":"right","values":[-1,-0.7,-0.4,-0.1,0.2,0.5,0.8,1.1,1.4,1.7,2.0],"format":".1f","ticks":false,"labelPadding":3,"title":null,"labelColor":"#333","labelOverlap":false,"labelFontSize":12}},
      "y2":{"field":"hi"},
      "color":{"field":"t","type":"quantitative","legend":null,"scale":{"type":"threshold","domain":[-0.85,-0.7,-0.55,-0.4,-0.25,-0.1,0.05,0.2,0.35,0.5,0.65,0.8,0.95,1.1,1.25,1.4,1.55,1.7,1.85],"range":["#14239a","#1636c0","#1a4fdc","#1f68e8","#2182ee","#239cf0","#26b6ee","#2ccfe6","#3fe2d2","#66ecb4","#94ef8e","#c2ee64","#e6f043","#f7dc3a","#fbbb35","#f99b30","#f6712b","#fa4a25","#d8321f","#a52216"]}}}},
    {"data":{"name":"tips"},"mark":{"type":"point","filled":true,"opacity":1,"size":64,"strokeWidth":0},
     "encoding":{
      "y":{"field":"v","type":"quantitative","axis":{"orient":"right","values":[-1,-0.7,-0.4,-0.1,0.2,0.5,0.8,1.1,1.4,1.7,2.0],"format":".1f","ticks":false,"labelPadding":3,"title":null,"labelColor":"#333","labelOverlap":false,"labelFontSize":12}},
      "shape":{"field":"dir","type":"nominal","legend":null,"scale":{"domain":["up","down"],"range":["M-1,0L1,0L0,-1.3Z","M-1,0L1,0L0,1.3Z"]}},
      "color":{"field":"t","type":"quantitative","legend":null,"scale":{"type":"threshold","domain":[-0.85,-0.7,-0.55,-0.4,-0.25,-0.1,0.05,0.2,0.35,0.5,0.65,0.8,0.95,1.1,1.25,1.4,1.55,1.7,1.85],"range":["#14239a","#1636c0","#1a4fdc","#1f68e8","#2182ee","#239cf0","#26b6ee","#2ccfe6","#3fe2d2","#66ecb4","#94ef8e","#c2ee64","#e6f043","#f7dc3a","#fbbb35","#f99b30","#f6712b","#fa4a25","#d8321f","#a52216"]}}}}
   ]}
 ]},
 {"spacing":10,"resolve":{"scale":{"x":"independent","y":"independent"}},"hconcat":[
  {"width":355,"height":177,"title":"Temperature [Cᵒ] in autumn (SON) 2070-2099",
   "layer":[
    {"data":{"name":"cells"},"transform":[{"filter":"datum.p === 'SON'"}],
     "mark":{"type":"rect","strokeWidth":1},
     "encoding":{
      "x":{"field":"x0","type":"quantitative","scale":{"domain":[10,12.5],"nice":false,"zero":false},"axis":{"values":[10.5,11,11.5,12],"format":".1f","title":"Longitude","titlePadding":-1,"labelOverlap":false}},
      "x2":{"field":"x1"},
      "y":{"field":"d0","type":"quantitative","scale":{"domain":[0,40],"reverse":true,"nice":false,"zero":false},"axis":{"values":[0,5,10,15,20,25,30,35,40],"title":"Depth [m]","titlePadding":1,"labelOverlap":false}},
      "y2":{"field":"d1"},
      "color":{"field":"t","type":"quantitative","legend":null,"scale":{"type":"threshold","domain":[-0.85,-0.7,-0.55,-0.4,-0.25,-0.1,0.05,0.2,0.35,0.5,0.65,0.8,0.95,1.1,1.25,1.4,1.55,1.7,1.85],"range":["#14239a","#1636c0","#1a4fdc","#1f68e8","#2182ee","#239cf0","#26b6ee","#2ccfe6","#3fe2d2","#66ecb4","#94ef8e","#c2ee64","#e6f043","#f7dc3a","#fbbb35","#f99b30","#f6712b","#fa4a25","#d8321f","#a52216"]}},
      "stroke":{"field":"t","type":"quantitative","legend":null,"scale":{"type":"threshold","domain":[-0.85,-0.7,-0.55,-0.4,-0.25,-0.1,0.05,0.2,0.35,0.5,0.65,0.8,0.95,1.1,1.25,1.4,1.55,1.7,1.85],"range":["#14239a","#1636c0","#1a4fdc","#1f68e8","#2182ee","#239cf0","#26b6ee","#2ccfe6","#3fe2d2","#66ecb4","#94ef8e","#c2ee64","#e6f043","#f7dc3a","#fbbb35","#f99b30","#f6712b","#fa4a25","#d8321f","#a52216"]}}}},
    {"data":{"name":"lines"},"transform":[{"filter":"datum.p === 'SON'"}],
     "mark":{"type":"line","color":"#3a2a20","strokeWidth":0.8,"opacity":0.75,"interpolate":"monotone"},
     "encoding":{"x":{"field":"lon","type":"quantitative","axis":{"values":[10.5,11,11.5,12],"format":".1f","title":"Longitude","titlePadding":-1,"labelOverlap":false}},"y":{"field":"d","type":"quantitative","axis":{"values":[0,5,10,15,20,25,30,35,40],"title":"Depth [m]","titlePadding":1,"labelOverlap":false}},"detail":{"field":"g"},"order":{"field":"o","type":"quantitative"}}}
   ]},
  {"width":8,"height":177,"view":{"stroke":null},
   "layer":[
    {"data":{"name":"bar"},"mark":{"type":"rect"},
     "encoding":{
      "y":{"field":"lo","type":"quantitative","scale":{"domain":[-1.11,2.1],"nice":false,"zero":false},"axis":{"orient":"right","values":[-1,-0.7,-0.4,-0.1,0.2,0.5,0.8,1.1,1.4,1.7,2.0],"format":".1f","ticks":false,"labelPadding":3,"title":null,"labelColor":"#333","labelOverlap":false,"labelFontSize":12}},
      "y2":{"field":"hi"},
      "color":{"field":"t","type":"quantitative","legend":null,"scale":{"type":"threshold","domain":[-0.85,-0.7,-0.55,-0.4,-0.25,-0.1,0.05,0.2,0.35,0.5,0.65,0.8,0.95,1.1,1.25,1.4,1.55,1.7,1.85],"range":["#14239a","#1636c0","#1a4fdc","#1f68e8","#2182ee","#239cf0","#26b6ee","#2ccfe6","#3fe2d2","#66ecb4","#94ef8e","#c2ee64","#e6f043","#f7dc3a","#fbbb35","#f99b30","#f6712b","#fa4a25","#d8321f","#a52216"]}}}},
    {"data":{"name":"tips"},"mark":{"type":"point","filled":true,"opacity":1,"size":64,"strokeWidth":0},
     "encoding":{
      "y":{"field":"v","type":"quantitative","axis":{"orient":"right","values":[-1,-0.7,-0.4,-0.1,0.2,0.5,0.8,1.1,1.4,1.7,2.0],"format":".1f","ticks":false,"labelPadding":3,"title":null,"labelColor":"#333","labelOverlap":false,"labelFontSize":12}},
      "shape":{"field":"dir","type":"nominal","legend":null,"scale":{"domain":["up","down"],"range":["M-1,0L1,0L0,-1.3Z","M-1,0L1,0L0,1.3Z"]}},
      "color":{"field":"t","type":"quantitative","legend":null,"scale":{"type":"threshold","domain":[-0.85,-0.7,-0.55,-0.4,-0.25,-0.1,0.05,0.2,0.35,0.5,0.65,0.8,0.95,1.1,1.25,1.4,1.55,1.7,1.85],"range":["#14239a","#1636c0","#1a4fdc","#1f68e8","#2182ee","#239cf0","#26b6ee","#2ccfe6","#3fe2d2","#66ecb4","#94ef8e","#c2ee64","#e6f043","#f7dc3a","#fbbb35","#f99b30","#f6712b","#fa4a25","#d8321f","#a52216"]}}}}
   ]}
 ]}
]},
{"spacing":106,"resolve":{"scale":{"x":"independent","y":"independent"}},"hconcat":[
 {"spacing":10,"resolve":{"scale":{"x":"independent","y":"independent"}},"hconcat":[
  {"width":355,"height":177,"title":"Temperature [Cᵒ] in winter (DJF) 2070-2099",
   "layer":[
    {"data":{"name":"cells"},"transform":[{"filter":"datum.p === 'DJF'"}],
     "mark":{"type":"rect","strokeWidth":1},
     "encoding":{
      "x":{"field":"x0","type":"quantitative","scale":{"domain":[10,12.5],"nice":false,"zero":false},"axis":{"values":[10.5,11,11.5,12],"format":".1f","title":"Longitude","titlePadding":-1,"labelOverlap":false}},
      "x2":{"field":"x1"},
      "y":{"field":"d0","type":"quantitative","scale":{"domain":[0,40],"reverse":true,"nice":false,"zero":false},"axis":{"values":[0,5,10,15,20,25,30,35,40],"title":"Depth [m]","titlePadding":1,"labelOverlap":false}},
      "y2":{"field":"d1"},
      "color":{"field":"t","type":"quantitative","legend":null,"scale":{"type":"threshold","domain":[-0.85,-0.7,-0.55,-0.4,-0.25,-0.1,0.05,0.2,0.35,0.5,0.65,0.8,0.95,1.1,1.25,1.4,1.55,1.7,1.85],"range":["#14239a","#1636c0","#1a4fdc","#1f68e8","#2182ee","#239cf0","#26b6ee","#2ccfe6","#3fe2d2","#66ecb4","#94ef8e","#c2ee64","#e6f043","#f7dc3a","#fbbb35","#f99b30","#f6712b","#fa4a25","#d8321f","#a52216"]}},
      "stroke":{"field":"t","type":"quantitative","legend":null,"scale":{"type":"threshold","domain":[-0.85,-0.7,-0.55,-0.4,-0.25,-0.1,0.05,0.2,0.35,0.5,0.65,0.8,0.95,1.1,1.25,1.4,1.55,1.7,1.85],"range":["#14239a","#1636c0","#1a4fdc","#1f68e8","#2182ee","#239cf0","#26b6ee","#2ccfe6","#3fe2d2","#66ecb4","#94ef8e","#c2ee64","#e6f043","#f7dc3a","#fbbb35","#f99b30","#f6712b","#fa4a25","#d8321f","#a52216"]}}}},
    {"data":{"name":"lines"},"transform":[{"filter":"datum.p === 'DJF'"}],
     "mark":{"type":"line","color":"#3a2a20","strokeWidth":0.8,"opacity":0.75,"interpolate":"monotone"},
     "encoding":{"x":{"field":"lon","type":"quantitative","axis":{"values":[10.5,11,11.5,12],"format":".1f","title":"Longitude","titlePadding":-1,"labelOverlap":false}},"y":{"field":"d","type":"quantitative","axis":{"values":[0,5,10,15,20,25,30,35,40],"title":"Depth [m]","titlePadding":1,"labelOverlap":false}},"detail":{"field":"g"},"order":{"field":"o","type":"quantitative"}}}
   ]},
  {"width":8,"height":177,"view":{"stroke":null},
   "layer":[
    {"data":{"name":"bar"},"mark":{"type":"rect"},
     "encoding":{
      "y":{"field":"lo","type":"quantitative","scale":{"domain":[-1.11,2.1],"nice":false,"zero":false},"axis":{"orient":"right","values":[-1,-0.7,-0.4,-0.1,0.2,0.5,0.8,1.1,1.4,1.7,2.0],"format":".1f","ticks":false,"labelPadding":3,"title":null,"labelColor":"#333","labelOverlap":false,"labelFontSize":12}},
      "y2":{"field":"hi"},
      "color":{"field":"t","type":"quantitative","legend":null,"scale":{"type":"threshold","domain":[-0.85,-0.7,-0.55,-0.4,-0.25,-0.1,0.05,0.2,0.35,0.5,0.65,0.8,0.95,1.1,1.25,1.4,1.55,1.7,1.85],"range":["#14239a","#1636c0","#1a4fdc","#1f68e8","#2182ee","#239cf0","#26b6ee","#2ccfe6","#3fe2d2","#66ecb4","#94ef8e","#c2ee64","#e6f043","#f7dc3a","#fbbb35","#f99b30","#f6712b","#fa4a25","#d8321f","#a52216"]}}}},
    {"data":{"name":"tips"},"mark":{"type":"point","filled":true,"opacity":1,"size":64,"strokeWidth":0},
     "encoding":{
      "y":{"field":"v","type":"quantitative","axis":{"orient":"right","values":[-1,-0.7,-0.4,-0.1,0.2,0.5,0.8,1.1,1.4,1.7,2.0],"format":".1f","ticks":false,"labelPadding":3,"title":null,"labelColor":"#333","labelOverlap":false,"labelFontSize":12}},
      "shape":{"field":"dir","type":"nominal","legend":null,"scale":{"domain":["up","down"],"range":["M-1,0L1,0L0,-1.3Z","M-1,0L1,0L0,1.3Z"]}},
      "color":{"field":"t","type":"quantitative","legend":null,"scale":{"type":"threshold","domain":[-0.85,-0.7,-0.55,-0.4,-0.25,-0.1,0.05,0.2,0.35,0.5,0.65,0.8,0.95,1.1,1.25,1.4,1.55,1.7,1.85],"range":["#14239a","#1636c0","#1a4fdc","#1f68e8","#2182ee","#239cf0","#26b6ee","#2ccfe6","#3fe2d2","#66ecb4","#94ef8e","#c2ee64","#e6f043","#f7dc3a","#fbbb35","#f99b30","#f6712b","#fa4a25","#d8321f","#a52216"]}}}}
   ]}
 ]},
 {"spacing":10,"resolve":{"scale":{"x":"independent","y":"independent"}},"hconcat":[
  {"width":355,"height":177,"title":"Temperature [Cᵒ] in spring (MAM) 2070-2099",
   "layer":[
    {"data":{"name":"cells"},"transform":[{"filter":"datum.p === 'MAM'"}],
     "mark":{"type":"rect","strokeWidth":1},
     "encoding":{
      "x":{"field":"x0","type":"quantitative","scale":{"domain":[10,12.5],"nice":false,"zero":false},"axis":{"values":[10.5,11,11.5,12],"format":".1f","title":"Longitude","titlePadding":-1,"labelOverlap":false}},
      "x2":{"field":"x1"},
      "y":{"field":"d0","type":"quantitative","scale":{"domain":[0,40],"reverse":true,"nice":false,"zero":false},"axis":{"values":[0,5,10,15,20,25,30,35,40],"title":"Depth [m]","titlePadding":1,"labelOverlap":false}},
      "y2":{"field":"d1"},
      "color":{"field":"t","type":"quantitative","legend":null,"scale":{"type":"threshold","domain":[-0.85,-0.7,-0.55,-0.4,-0.25,-0.1,0.05,0.2,0.35,0.5,0.65,0.8,0.95,1.1,1.25,1.4,1.55,1.7,1.85],"range":["#14239a","#1636c0","#1a4fdc","#1f68e8","#2182ee","#239cf0","#26b6ee","#2ccfe6","#3fe2d2","#66ecb4","#94ef8e","#c2ee64","#e6f043","#f7dc3a","#fbbb35","#f99b30","#f6712b","#fa4a25","#d8321f","#a52216"]}},
      "stroke":{"field":"t","type":"quantitative","legend":null,"scale":{"type":"threshold","domain":[-0.85,-0.7,-0.55,-0.4,-0.25,-0.1,0.05,0.2,0.35,0.5,0.65,0.8,0.95,1.1,1.25,1.4,1.55,1.7,1.85],"range":["#14239a","#1636c0","#1a4fdc","#1f68e8","#2182ee","#239cf0","#26b6ee","#2ccfe6","#3fe2d2","#66ecb4","#94ef8e","#c2ee64","#e6f043","#f7dc3a","#fbbb35","#f99b30","#f6712b","#fa4a25","#d8321f","#a52216"]}}}},
    {"data":{"name":"lines"},"transform":[{"filter":"datum.p === 'MAM'"}],
     "mark":{"type":"line","color":"#3a2a20","strokeWidth":0.8,"opacity":0.75,"interpolate":"monotone"},
     "encoding":{"x":{"field":"lon","type":"quantitative","axis":{"values":[10.5,11,11.5,12],"format":".1f","title":"Longitude","titlePadding":-1,"labelOverlap":false}},"y":{"field":"d","type":"quantitative","axis":{"values":[0,5,10,15,20,25,30,35,40],"title":"Depth [m]","titlePadding":1,"labelOverlap":false}},"detail":{"field":"g"},"order":{"field":"o","type":"quantitative"}}}
   ]},
  {"width":8,"height":177,"view":{"stroke":null},
   "layer":[
    {"data":{"name":"bar"},"mark":{"type":"rect"},
     "encoding":{
      "y":{"field":"lo","type":"quantitative","scale":{"domain":[-1.11,2.1],"nice":false,"zero":false},"axis":{"orient":"right","values":[-1,-0.7,-0.4,-0.1,0.2,0.5,0.8,1.1,1.4,1.7,2.0],"format":".1f","ticks":false,"labelPadding":3,"title":null,"labelColor":"#333","labelOverlap":false,"labelFontSize":12}},
      "y2":{"field":"hi"},
      "color":{"field":"t","type":"quantitative","legend":null,"scale":{"type":"threshold","domain":[-0.85,-0.7,-0.55,-0.4,-0.25,-0.1,0.05,0.2,0.35,0.5,0.65,0.8,0.95,1.1,1.25,1.4,1.55,1.7,1.85],"range":["#14239a","#1636c0","#1a4fdc","#1f68e8","#2182ee","#239cf0","#26b6ee","#2ccfe6","#3fe2d2","#66ecb4","#94ef8e","#c2ee64","#e6f043","#f7dc3a","#fbbb35","#f99b30","#f6712b","#fa4a25","#d8321f","#a52216"]}}}},
    {"data":{"name":"tips"},"mark":{"type":"point","filled":true,"opacity":1,"size":64,"strokeWidth":0},
     "encoding":{
      "y":{"field":"v","type":"quantitative","axis":{"orient":"right","values":[-1,-0.7,-0.4,-0.1,0.2,0.5,0.8,1.1,1.4,1.7,2.0],"format":".1f","ticks":false,"labelPadding":3,"title":null,"labelColor":"#333","labelOverlap":false,"labelFontSize":12}},
      "shape":{"field":"dir","type":"nominal","legend":null,"scale":{"domain":["up","down"],"range":["M-1,0L1,0L0,-1.3Z","M-1,0L1,0L0,1.3Z"]}},
      "color":{"field":"t","type":"quantitative","legend":null,"scale":{"type":"threshold","domain":[-0.85,-0.7,-0.55,-0.4,-0.25,-0.1,0.05,0.2,0.35,0.5,0.65,0.8,0.95,1.1,1.25,1.4,1.55,1.7,1.85],"range":["#14239a","#1636c0","#1a4fdc","#1f68e8","#2182ee","#239cf0","#26b6ee","#2ccfe6","#3fe2d2","#66ecb4","#94ef8e","#c2ee64","#e6f043","#f7dc3a","#fbbb35","#f99b30","#f6712b","#fa4a25","#d8321f","#a52216"]}}}}
   ]}
 ]}
]}
]
}
